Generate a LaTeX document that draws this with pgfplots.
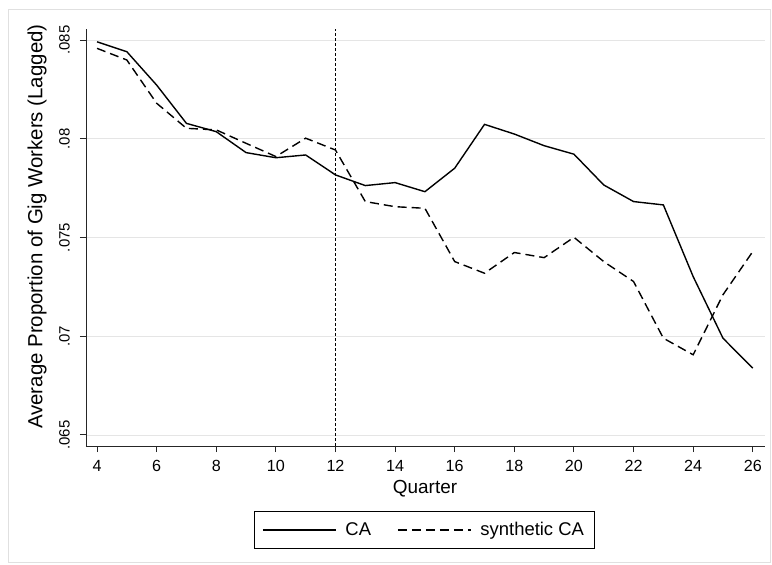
\documentclass[border=0pt]{standalone}
\usepackage{fontspec}
\setmainfont{Liberation Sans}
\usepackage{pgfplots}
\pgfplotsset{compat=1.18}

\begin{document}
\begin{tikzpicture}
\useasboundingbox (-86bp,-119bp) rectangle (686bp,446bp);
\fill[white] (-86bp,-119bp) rectangle (686bp,446bp);
\draw[black!12, line width=0.8bp] (-78bp,-116bp) rectangle (684bp,437bp);
\begin{axis}[
  at={(0,0)}, anchor=south west,
  scale only axis, width=679bp, height=417bp,
  xmin=3.63, xmax=26.41, ymin=0.06444, ymax=0.08556,
  axis lines*=left,
  axis line style={line width=0.9bp, black!85},
  tick align=outside,
  major tick length=6bp,
  tick style={line width=0.9bp, black!85},
  xtick={4,6,...,26},
  ytick={0.065,0.07,0.075,0.08,0.085},
  yticklabels={.065,.07,.075,.08,.085},
  scaled y ticks=false,
  /pgf/number format/assume math mode=true,
  xticklabel style={font=\fontsize{16.2}{18}\selectfont, inner sep=0pt, anchor=north, yshift=-8bp},
  yticklabel style={font=\fontsize{15}{17}\selectfont, rotate=90, inner sep=0pt, anchor=south, xshift=0bp, yshift=10bp},
  ymajorgrids,
  grid style={black!10, line width=0.8bp},
  xlabel={Quarter},
  ylabel={Average Proportion of Gig Workers (Lagged)},
  xlabel style={font=\fontsize{19}{22}\selectfont, at={(axis description cs:0.4993,-0.102)}, anchor=center},
  ylabel style={font=\fontsize{20.5}{23}\selectfont, at={(axis description cs:-0.072,0.526)}, anchor=center},
  legend style={at={(axis description cs:0.4978,-0.155)}, anchor=north, draw=black, line width=0.8bp,
    font=\fontsize{18.5}{20}\selectfont, inner xsep=8bp, inner ysep=9.5bp,
    /tikz/every odd column/.append style={column sep=7bp},
    /tikz/every even column/.append style={column sep=24bp}},
  legend columns=2,
  legend image code/.code={\draw[#1] (0bp,0bp) -- (73bp,0bp);},
]
\addplot[black, line width=1.4bp] coordinates {
(4,0.08491) (5,0.08441) (6,0.08272) (7,0.08078) (8,0.08036) (9,0.07930)
(10,0.07904) (11,0.07918) (12,0.07817) (13,0.07763) (14,0.07778) (15,0.07732)
(16,0.07851) (17,0.08073) (18,0.08024) (19,0.07965) (20,0.07922) (21,0.07766)
(22,0.07682) (23,0.07665) (24,0.07302) (25,0.06990) (26,0.06838)};
\addlegendentry{CA}
\addplot[black, line width=1.4bp, dash pattern=on 9bp off 5bp] coordinates {
(4,0.08458) (5,0.08399) (6,0.0818) (7,0.08053) (8,0.08045) (9,0.07977)
(10,0.07910) (11,0.08003) (12,0.07943) (13,0.07682) (14,0.07656) (15,0.07648)
(16,0.07378) (17,0.07319) (18,0.07424) (19,0.07398) (20,0.07501) (21,0.07378)
(22,0.07277) (23,0.06990) (24,0.06906) (25,0.07210) (26,0.07429)};
\addlegendentry{synthetic CA}
\addplot[black, line width=1.1bp, dash pattern=on 3bp off 2bp, forget plot] coordinates {(12,0.06444) (12,0.08556)};
\end{axis}
\end{tikzpicture}
\end{document}
